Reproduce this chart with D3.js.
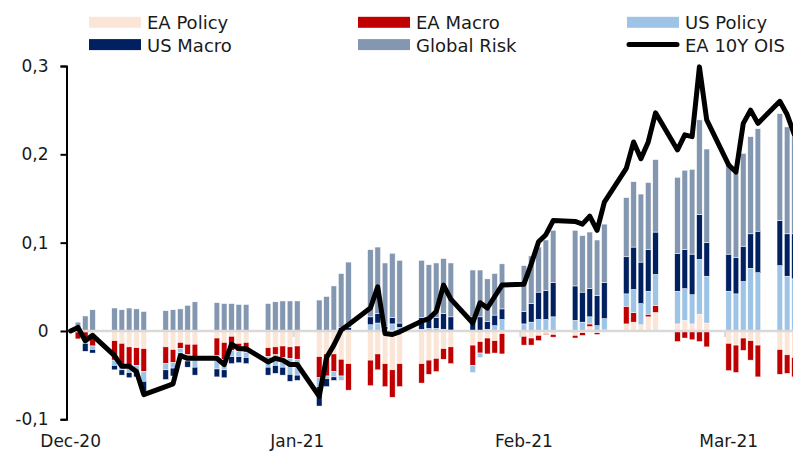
<!DOCTYPE html>
<html>
<head>
<meta charset="utf-8">
<script src="https://cdn.jsdelivr.net/npm/d3@7"></script>
<style>
    body { margin: 0; background: #fff; }
    svg { display: block; font-family: "DejaVu Sans", Verdana, sans-serif; }
</style>
</head>
<body>
<svg id="chart"></svg>
<script>
const width = 793;
const height = 452;

// business days shown on the chart
const dates = [
    "2020-12-01", "2020-12-02", "2020-12-03", "2020-12-04", "2020-12-07", "2020-12-08", "2020-12-09", "2020-12-10",
    "2020-12-11", "2020-12-14", "2020-12-15", "2020-12-16", "2020-12-17", "2020-12-18", "2020-12-21", "2020-12-22",
    "2020-12-23", "2020-12-24", "2020-12-25", "2020-12-28", "2020-12-29", "2020-12-30", "2020-12-31", "2021-01-01",
    "2021-01-04", "2021-01-05", "2021-01-06", "2021-01-07", "2021-01-08", "2021-01-11", "2021-01-12", "2021-01-13",
    "2021-01-14", "2021-01-15", "2021-01-18", "2021-01-19", "2021-01-20", "2021-01-21", "2021-01-22", "2021-01-25",
    "2021-01-26", "2021-01-27", "2021-01-28", "2021-01-29", "2021-02-01", "2021-02-02", "2021-02-03", "2021-02-04",
    "2021-02-05", "2021-02-08", "2021-02-09", "2021-02-10", "2021-02-11", "2021-02-12", "2021-02-15", "2021-02-16",
    "2021-02-17", "2021-02-18", "2021-02-19", "2021-02-22", "2021-02-23", "2021-02-24", "2021-02-25", "2021-02-26",
    "2021-03-01", "2021-03-02", "2021-03-03", "2021-03-04", "2021-03-05", "2021-03-08", "2021-03-09", "2021-03-10"
];

const eaPolicy = [
    0, -0.001, -0.001, -0.005, -0.011, -0.014, -0.018, -0.019, -0.020, -0.018, -0.021, -0.013, -0.015, -0.015, -0.008, -0.013,
    -0.006, -0.014, -0.013, -0.019, -0.018, -0.017, -0.018, -0.017,
    -0.029, -0.026, -0.026, -0.032, -0.037, -0.033, -0.026, -0.037, -0.044, -0.037, -0.037, -0.033, -0.031, -0.020, -0.018, -0.016,
    -0.012, -0.008, -0.011, -0.003,
    -0.006, -0.008, -0.005, -0.003, -0.004, -0.005, -0.002, 0.005, -0.002, 0, 0.008, 0.010, 0.007, 0.016, 0.021, 0.008,
    0.012, 0.008, 0.019, 0.009,
    -0.014, -0.016, -0.008, -0.011, -0.016, -0.021, -0.027, -0.030
];
const eaMacro = [
    0, -0.008, -0.011, -0.012, -0.022, -0.024, -0.021, -0.020, -0.026, -0.019, -0.015, -0.007, -0.012, -0.014, -0.020, -0.019,
    -0.016, -0.009, -0.011, -0.010, -0.009, -0.013, -0.013, -0.015,
    -0.024, -0.025, -0.020, -0.019, -0.030, -0.029, -0.018, -0.026, -0.031, -0.026, -0.022, -0.016, -0.015, -0.012, -0.019, -0.023,
    -0.013, -0.018, -0.014, -0.023,
    -0.010, -0.008, -0.006, -0.001, -0.003, -0.003, -0.003, 0.003, -0.002, 0.002, 0.020, 0.011, 0, 0.003, 0.008, -0.012,
    -0.008, -0.010, -0.012, -0.018,
    -0.031, -0.031, -0.014, -0.022, -0.036, -0.028, -0.021, -0.022
];
const usPolicy = [
    0, 0, -0.002, -0.004, -0.006, -0.006, -0.008, -0.008, -0.011, -0.007, -0.006, -0.005, -0.007, -0.012, -0.015, -0.012,
    -0.007, -0.006, -0.006, -0.012, -0.012, -0.011, -0.018, -0.018,
    -0.010, -0.003, -0.006, -0.005, 0, 0.007, 0.009, 0.002, 0.008, 0.004, 0.002, 0.003, 0.003, 0.002, 0.001, -0.008,
    -0.005, 0.002, 0.006, 0.013,
    0.008, 0.010, 0.013, 0.013, 0.016, 0.012, 0.010, 0.008, 0.006, 0.012, 0.014, 0.026, 0.024, 0.026, 0.035, 0.037,
    0.036, 0.033, 0.062, 0.053,
    0.045, 0.042, 0.056, 0.071, 0.066, 0.074, 0.062, 0.059
];
const usMacro = [
    0, 0, -0.009, -0.004, -0.005, -0.006, -0.006, -0.005, -0.013, -0.011, -0.009, -0.002, -0.007, -0.009, -0.009, -0.009,
    -0.008, -0.007, -0.007, -0.009, -0.009, -0.009, -0.008, -0.006,
    -0.022, -0.009, -0.004, 0.004, 0.004, 0.009, 0.011, 0.003, 0.007, 0.005, 0.013, 0.012, 0.012, 0.018, 0.015, 0.016,
    0.016, 0.009, 0.012, 0.012,
    0.014, 0.021, 0.031, 0.033, 0.039, 0.039, 0.034, 0.032, 0.034, 0.041, 0.042, 0.048, 0.047, 0.047, 0.048, 0.043,
    0.044, 0.046, 0.051, 0.038,
    0.042, 0.041, 0.040, 0.039, 0.047, 0.051, 0.048, 0.051
];
const globalRisk = [
    0, 0.010, 0.017, 0.024, 0.026, 0.024, 0.026, 0.025, 0.022, 0.023, 0.024, 0.025, 0.029, 0.033, 0.032, 0.031,
    0.031, 0.030, 0.030, 0.031, 0.033, 0.034, 0.034, 0.034,
    0.035, 0.039, 0.051, 0.061, 0.074, 0.076, 0.075, 0.072, 0.073, 0.071, 0.065, 0.060, 0.062, 0.062, 0.061, 0.053,
    0.053, 0.048, 0.047, 0.051,
    0.052, 0.054, 0.051, 0.057, 0.059, 0.063, 0.064, 0.064, 0.063, 0.066, 0.067, 0.074, 0.077, 0.076, 0.082, 0.086,
    0.090, 0.096, 0.107, 0.106,
    0.103, 0.097, 0.105, 0.110, 0.116, 0.121, 0.121, 0.110
];
const ois10y = [
    0, 0.004, -0.011, -0.005, -0.028, -0.040, -0.040, -0.046, -0.072, -0.063, -0.060, -0.028, -0.031, -0.031, -0.031, -0.038,
    -0.015, -0.020, -0.020, -0.035, -0.031, -0.033, -0.038, -0.038,
    -0.074, -0.030, -0.016, 0.001, 0.007, 0.026, 0.050, -0.003, -0.004, -0.001, 0.011, 0.014, 0.022, 0.052, 0.036, 0.009,
    0.032, 0.026, 0.039, 0.052,
    0.053, 0.076, 0.101, 0.109, 0.125, 0.124, 0.121, 0.130, 0.114, 0.146, 0.184, 0.214, 0.195, 0.214, 0.247, 0.205,
    0.222, 0.220, 0.299, 0.239,
    0.188, 0.180, 0.235, 0.250, 0.235, 0.260, 0.245, 0.222
];

const yTicks = [-0.1, 0, 0.1, 0.2, 0.3];
const monthTicks = ["2020-12-01", "2021-01-01", "2021-02-01", "2021-03-01"];

const series = [
    { key: "eaPolicy", name: "EA Policy", color: "#FBE5D6", values: eaPolicy },
    { key: "eaMacro", name: "EA Macro", color: "#C00000", values: eaMacro },
    { key: "usPolicy", name: "US Policy", color: "#9DC3E6", values: usPolicy },
    { key: "usMacro", name: "US Macro", color: "#002060", values: usMacro },
    { key: "globalRisk", name: "Global Risk", color: "#8497B0", values: globalRisk }
];

const parse = d3.utcParse("%Y-%m-%d");
const rows = dates.map((d, i) => {
    const row = { date: parse(d), ois: ois10y[i] };
    series.forEach(s => row[s.key] = s.values[i]);
    return row;
});

const x = d3.scaleUtc()
    .domain([parse("2020-12-01"), parse("2021-03-01")])
    .range([67, 725]);
const day = x(parse("2020-12-02")) - x(parse("2020-12-01"));
const y = d3.scaleLinear().domain([-0.1, 0.3]).range([419.3, 66]);

const svg = d3.select('#chart')
    .attr('width', width)
    .attr('height', height);

const stacked = d3.stack()
    .keys(series.map(s => s.key))
    .offset(d3.stackOffsetDiverging)(rows);

// stacked bars, positives up and negatives down
svg.append('g')
    .selectAll('g')
    .data(stacked)
    .join('g')
    .attr('fill', (d, i) => series[i].color)
    .selectAll('rect')
    .data(d => d.filter(p => p[0] !== p[1]))
    .join('rect')
    .attr('x', d => x(d.data.date) + day / 2 - 2.8)
    .attr('width', 5.6)
    .attr('y', d => y(Math.max(d[0], d[1])))
    .attr('height', d => Math.abs(y(d[0]) - y(d[1])))
    .attr('stroke', '#fff')
    .attr('stroke-width', 0.5);

// zero line and month ticks
svg.append('line')
    .attr('x1', 67).attr('x2', width)
    .attr('y1', y(0)).attr('y2', y(0))
    .attr('stroke', '#d9d9d9')
    .attr('stroke-width', 2.5);

svg.append('g')
    .selectAll('line')
    .data(monthTicks.slice(1))
    .join('line')
    .attr('x1', d => x(parse(d))).attr('x2', d => x(parse(d)))
    .attr('y1', y(0)).attr('y2', y(0) + 6)
    .attr('stroke', '#d9d9d9')
    .attr('stroke-width', 2);

svg.append('g')
    .selectAll('text')
    .data(monthTicks)
    .join('text')
    .attr('x', d => x(parse(d)) + day / 2)
    .attr('y', 447)
    .attr('text-anchor', 'middle')
    .attr('font-size', 17)
    .attr('fill', '#1a1a1a')
    .text(d => d3.utcFormat("%b-%y")(parse(d)));

// y axis
const yAxis = svg.append('g')
    .attr('transform', 'translate(66.5,0)')
    .call(d3.axisLeft(y).tickValues(yTicks).tickSize(6).tickPadding(12)
        .tickFormat(d => d === 0 ? '0' : d3.format(".1f")(d).replace('.', ',').replace('−', '-')));
yAxis.select('.domain').attr('stroke', '#000').attr('stroke-width', 2);
yAxis.selectAll('.tick line').attr('stroke', '#000').attr('stroke-width', 2);
yAxis.selectAll('.tick text')
    .attr('font-size', 17)
    .attr('font-family', '"DejaVu Sans", Verdana, sans-serif')
    .attr('fill', '#1a1a1a');

// EA 10Y OIS line
svg.append('path')
    .datum(rows)
    .attr('fill', 'none')
    .attr('stroke', '#000')
    .attr('stroke-width', 5)
    .attr('stroke-linejoin', 'round')
    .attr('stroke-linecap', 'round')
    .attr('d', d3.line().x(d => x(d.date) + day / 2).y(d => y(d.ois)));

// legend, three columns by two rows
const legendItems = [
    { name: "EA Policy", color: "#FBE5D6", col: 0, row: 0 },
    { name: "EA Macro", color: "#C00000", col: 1, row: 0 },
    { name: "US Policy", color: "#9DC3E6", col: 2, row: 0 },
    { name: "US Macro", color: "#002060", col: 0, row: 1 },
    { name: "Global Risk", color: "#8497B0", col: 1, row: 1 },
    { name: "EA 10Y OIS", color: "#000", col: 2, row: 1, line: true }
];
const colX = [89, 358, 627];
const legend = svg.append('g')
    .selectAll('g')
    .data(legendItems)
    .join('g')
    .attr('transform', d => `translate(${colX[d.col]}, ${22.3 + d.row * 22.3})`);

legend.filter(d => !d.line).append('rect')
    .attr('x', 0).attr('y', -5.5)
    .attr('width', 52).attr('height', 11)
    .attr('fill', d => d.color);

legend.filter(d => d.line).append('line')
    .attr('x1', 2).attr('x2', 50)
    .attr('stroke', '#000')
    .attr('stroke-width', 5)
    .attr('stroke-linecap', 'round');

legend.append('text')
    .attr('x', 58)
    .attr('y', 7)
    .attr('font-size', 18)
    .attr('fill', '#1a1a1a')
    .text(d => d.name);
</script>
</body>
</html>
